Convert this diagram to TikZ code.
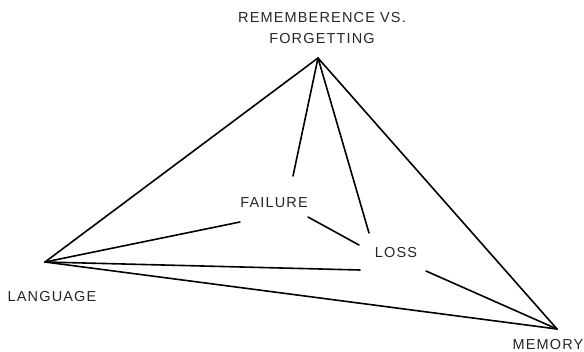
\documentclass[tikz,border=0pt]{standalone}
\usepackage{fontspec}
\setmainfont{Liberation Sans}[LetterSpace=8]
\begin{document}
\begin{tikzpicture}[x=1pt,y=-1pt,
  lbl/.style={inner sep=0pt,text=black!85,font=\fontsize{14.5}{17}\selectfont,align=center},
  edge/.style={line width=1.6pt,line cap=round,black}]
\useasboundingbox (0,0) rectangle (584,351);
% vertices
\coordinate (apex) at (318,58);
\coordinate (lang) at (45,262);
\coordinate (mem) at (557,329);
% inner ends
\coordinate (f1) at (293,176);
\coordinate (l1) at (369,233);
\coordinate (f2) at (240,222);
\coordinate (l2) at (360,270);
\coordinate (f3) at (308,217);
\coordinate (l3) at (359,245);
\coordinate (l4) at (426,271);
% labels
\node[lbl] (top) at (322,17.5) {REMEMBERENCE VS.};
\node[lbl] (top2) at (322,38.5) {FORGETTING};
\node[lbl] (failure) at (274,202.5) {FAILURE};
\node[lbl] (loss) at (396,253) {LOSS};
\node[lbl] (language) at (52,296.5) {LANGUAGE};
\node[lbl] (memory) at (548,344.5) {MEMORY};
% connectors
\draw[edge] (apex) -- (lang);
\draw[edge] (apex) -- (mem);
\draw[edge] (apex) -- (f1);
\draw[edge] (apex) -- (l1);
\draw[edge] (lang) -- (f2);
\draw[edge] (lang) -- (l2);
\draw[edge] (lang) -- (mem);
\draw[edge] (f3) -- (l3);
\draw[edge] (l4) -- (mem);
\end{tikzpicture}
\end{document}
